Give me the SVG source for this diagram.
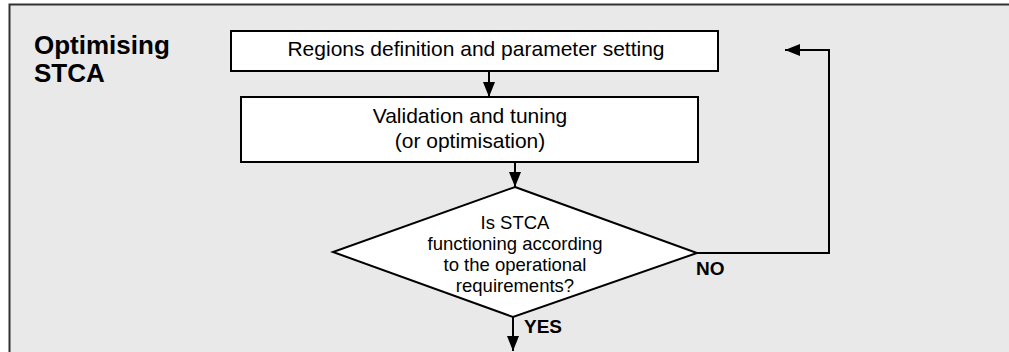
<svg xmlns="http://www.w3.org/2000/svg" width="1009" height="352" viewBox="0 0 1009 352">
<style>
.box{fill:#ffffff;stroke:#000000;stroke-width:2}
.t{font-family:"Liberation Sans",Arial,sans-serif;fill:#000000}
.c{text-anchor:middle}
.b{font-weight:bold}
.ln{fill:none;stroke:#000000;stroke-width:2}
</style>
<defs>
<marker id="ah" viewBox="0 0 15 12" refX="15" refY="6" markerWidth="15" markerHeight="12" markerUnits="userSpaceOnUse" orient="auto">
<path d="M0,0 L15,6 L0,12 Z" fill="#000000"/>
</marker>
</defs>
<rect x="0" y="0" width="1009" height="352" fill="#ffffff"/>
<rect id="frame" x="9.5" y="4.5" width="1010" height="360" fill="#e9e9e9" stroke="#333333" stroke-width="2"/>
<g id="title">
<text class="t b" x="34" y="54" font-size="26">Optimising</text>
<text class="t b" x="34" y="82" font-size="26">STCA</text>
</g>
<g id="n1">
<rect class="box" x="231" y="31" width="487" height="40"/>
<text class="t c" x="476" y="56" font-size="21">Regions definition and parameter setting</text>
</g>
<g id="n2">
<rect class="box" x="241" y="97" width="457" height="65"/>
<text class="t c" x="470" y="123" font-size="21">Validation and tuning</text>
<text class="t c" x="470" y="148" font-size="21">(or optimisation)</text>
</g>
<g id="n3">
<polygon class="box" points="515,187 697,253 513,317 333,252"/>
<text class="t c" x="515" y="229" font-size="18.5">Is STCA</text>
<text class="t c" x="515" y="250" font-size="18.5">functioning according</text>
<text class="t c" x="515" y="271" font-size="18.5">to the operational</text>
<text class="t c" x="515" y="292" font-size="18.5">requirements?</text>
</g>
<g id="connectors">
<line class="ln" x1="489" y1="71" x2="489" y2="97" marker-end="url(#ah)"/>
<line class="ln" x1="515" y1="162" x2="515" y2="187" marker-end="url(#ah)"/>
<line class="ln" x1="513" y1="317" x2="513" y2="351" marker-end="url(#ah)"/>
<polyline class="ln" points="697,253 829,253 829,50 785,50" marker-end="url(#ah)"/>
<text class="t b" x="696" y="275" font-size="19">NO</text>
<text class="t b" x="524" y="333" font-size="19">YES</text>
</g>
</svg>
